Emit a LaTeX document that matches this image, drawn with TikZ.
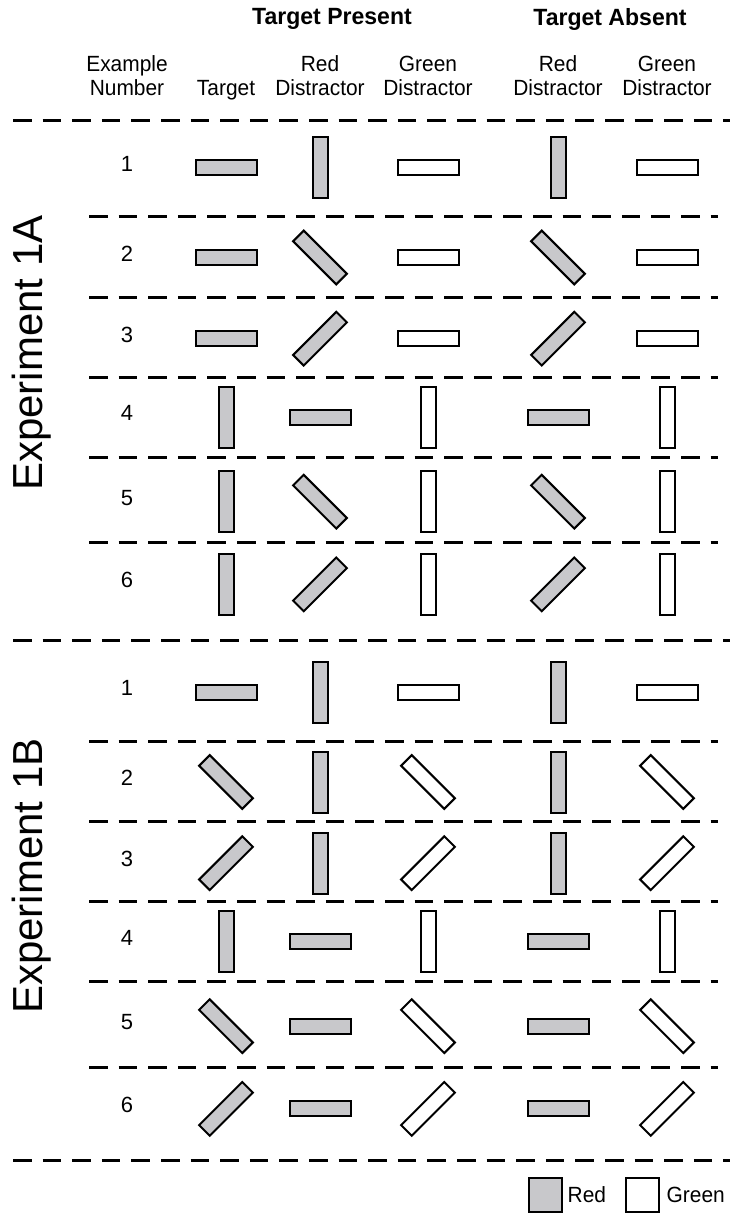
\documentclass[tikz,border=0pt]{standalone}
\usepackage{fontspec}
\setmainfont{Liberation Sans}
\usetikzlibrary{positioning}
\definecolor{barfill}{RGB}{200,200,203}
\tikzset{
  redbar/.style={draw, line width=2pt, fill=barfill, minimum width=61pt, minimum height=15pt, inner sep=0pt},
  greenbar/.style={redbar, fill=white},
  sepline/.style={line width=3pt, dash pattern=on 18.6pt off 11pt},
  hdr/.style={font=\fontsize{22}{24}\selectfont, align=center, inner sep=0pt, xscale=0.95},
  bighdr/.style={font=\fontsize{23.5}{26}\selectfont\bfseries, inner sep=0pt, xscale=0.98},
  numtxt/.style={font=\fontsize{22}{24}\selectfont, inner sep=0pt},
  explbl/.style={font=\fontsize{42}{48}\selectfont, rotate=90, inner sep=0pt},
  keybox/.style={draw, line width=2pt, minimum width=33pt, minimum height=34pt, inner sep=0pt}
}

\begin{document}
\begin{tikzpicture}[x=1pt, y=-1pt]
    \useasboundingbox (0,0) rectangle (730,1213);

    % column headings
    \node[bighdr] (present) at (332,19) {Target Present};
    \node[bighdr] (absent) at (610,19) {Target Absent};
    \foreach \name/\x/\txt in {exnum/127/Example\\Number, prd/320/Red\\Distractor,
      pgd/428/Green\\Distractor, ard/558/Red\\Distractor, agd/667/Green\\Distractor}
    {
      \node[hdr] (\name) at (\x,76) {\txt};
    }
    \node[hdr] (target) at (226,90) {Target};

    % separators
    \foreach \y in {120.7,640.7,1160}
      \draw[sepline] (13,\y) -- (730,\y);
    \foreach \y in {216.7,297.3,377.3,457.3,542.7,741.2,821.8,901.8,981.8,1067.2}
      \draw[sepline] (89,\y) -- (718,\y);

    % rows: name/number/y/target/red/green angle
    \foreach \name/\num/\y/\t/\p/\q in {
      a1/1/167.5/0/90/0, a2/2/257.5/0/-45/0, a3/3/338.7/0/45/0,
      a4/4/417/90/0/90, a5/5/501.7/90/-45/90, a6/6/584.3/90/45/90,
      b1/1/692/0/90/0, b2/2/782/-45/90/-45, b3/3/863.2/45/90/45,
      b4/4/941.5/90/0/90, b5/5/1026.2/-45/0/-45, b6/6/1108.8/45/0/45}
    {
      \node[numtxt] (n\name) at (127,\y-4) {\num};
      \node[redbar, rotate=\t] (t\name) at (226,\y) {};
      \node[redbar, rotate=\p] (pr\name) at (320,\y) {};
      \node[greenbar, rotate=\q] (pg\name) at (428,\y) {};
      \node[redbar, rotate=\p] (ar\name) at (558,\y) {};
      \node[greenbar, rotate=\q] (ag\name) at (667,\y) {};
    }

    \node[explbl] (expa) at (32,353) {Experiment 1A};
    \node[explbl] (expb) at (32,876) {Experiment 1B};

    % key
    \node[keybox, fill=barfill] (keyred) at (545,1195) {};
    \node[hdr, right=5pt of keyred] (keyredtxt) {Red};
    \node[keybox, fill=white] (keygreen) at (642,1195) {};
    \node[hdr, right=7pt of keygreen] (keygreentxt) {Green};
  \end{tikzpicture}
\end{document}
